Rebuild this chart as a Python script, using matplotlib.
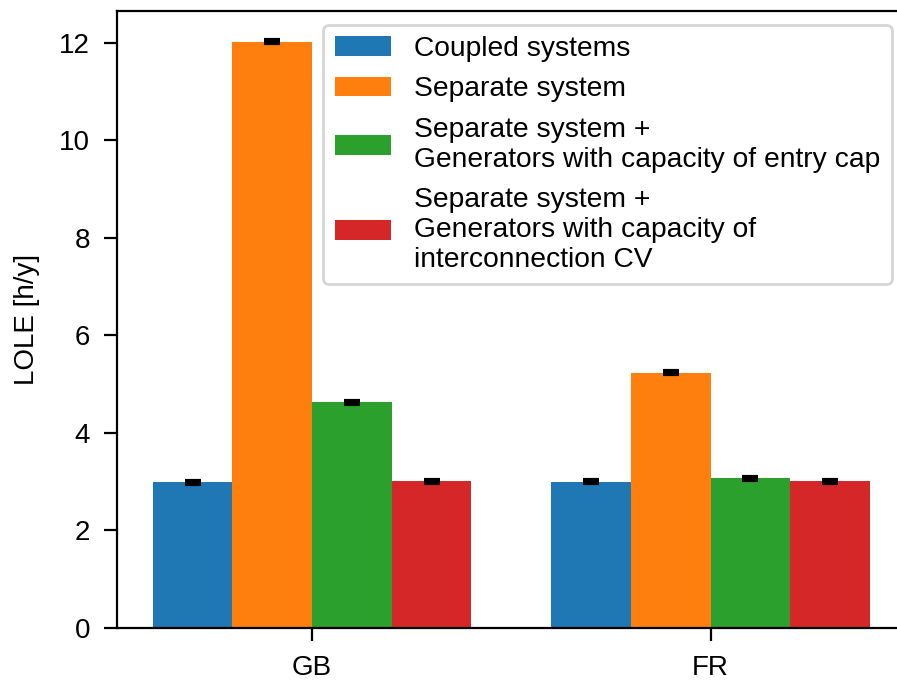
import numpy as np
import matplotlib.pyplot as plt

plt.rcParams['font.family'] = ['Liberation Sans', 'DejaVu Sans']
plt.rcParams['xtick.major.size'] = 4.7
plt.rcParams['ytick.major.size'] = 4.7
plt.rcParams['xtick.major.pad'] = 5
plt.rcParams['ytick.major.pad'] = 5

# LOLE per region and case
regions = ["GB", "FR"]
labels = ["Coupled systems",
          "Separate system",
          "Separate system +\nGenerators with capacity of entry cap",
          "Separate system +\nGenerators with capacity of\ninterconnection CV"]
coupled = [2.99, 3.00]
separate = [12.02, 5.23]
sep_entry = [4.63, 3.07]
sep_cv = [3.01, 3.01]
err_coupled = [0.03, 0.03]
err_separate = [0.03, 0.03]
err_entry = [0.03, 0.03]
err_cv = [0.03, 0.03]

series = [coupled, separate, sep_entry, sep_cv]
errors = [err_coupled, err_separate, err_entry, err_cv]

fig = plt.figure(figsize=(4.485, 3.42), dpi=200)
# right side of the axes runs past the figure edge, like the cropped original
ax = fig.add_axes([0.1304, 0.0819, 0.8793, 0.9025])

x = np.arange(len(regions))
w = 0.2
for i, (vals, err, lab) in enumerate(zip(series, errors, labels)):
    ax.bar(x + (i - 1.5) * w, vals, w, yerr=err, label=lab,
           capsize=3, error_kw=dict(capthick=1.5, elinewidth=1.5))

ax.set_xticks(x)
ax.set_xticklabels(regions)
ax.set_ylabel("LOLE [h/y]", labelpad=7)
ax.spines['right'].set_visible(False)
ax.legend(loc="upper right", fontsize=10.2)

fig.savefig("out.png", dpi=200)
